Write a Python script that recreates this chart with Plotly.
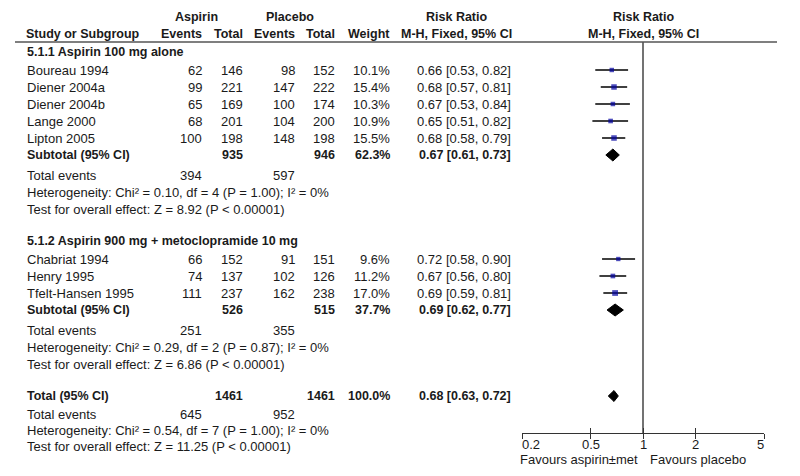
import math
import plotly.graph_objects as go

# ---------------- data ----------------
group_titles = ["5.1.1 Aspirin 100 mg alone", "5.1.2 Aspirin 900 mg + metoclopramide 10 mg"]

g1_studies = ["Boureau 1994", "Diener 2004a", "Diener 2004b", "Lange 2000", "Lipton 2005"]
g1_asp_events = [62, 99, 65, 68, 100]
g1_asp_total = [146, 221, 169, 201, 198]
g1_pla_events = [98, 147, 100, 104, 148]
g1_pla_total = [152, 222, 174, 200, 198]
g1_weight = [10.1, 15.4, 10.3, 10.9, 15.5]
g1_rr = [0.66, 0.68, 0.67, 0.65, 0.68]
g1_lo = [0.53, 0.57, 0.53, 0.51, 0.58]
g1_hi = [0.82, 0.81, 0.84, 0.82, 0.79]

g2_studies = ["Chabriat 1994", "Henry 1995", "Tfelt-Hansen 1995"]
g2_asp_events = [66, 74, 111]
g2_asp_total = [152, 137, 237]
g2_pla_events = [91, 102, 162]
g2_pla_total = [151, 126, 238]
g2_weight = [9.6, 11.2, 17.0]
g2_rr = [0.72, 0.67, 0.69]
g2_lo = [0.58, 0.56, 0.59]
g2_hi = [0.90, 0.80, 0.81]

sub_asp_total = [935, 526]
sub_pla_total = [946, 515]
sub_weight = [62.3, 37.7]
sub_rr = [0.67, 0.69]
sub_lo = [0.61, 0.62]
sub_hi = [0.73, 0.77]
sub_asp_events = [394, 251]
sub_pla_events = [597, 355]
sub_het = ["Heterogeneity: Chi² = 0.10, df = 4 (P = 1.00); I² = 0%",
           "Heterogeneity: Chi² = 0.29, df = 2 (P = 0.87); I² = 0%"]
sub_test = ["Test for overall effect: Z = 8.92 (P < 0.00001)",
            "Test for overall effect: Z = 6.86 (P < 0.00001)"]

total_asp_total = 1461
total_pla_total = 1461
total_weight = 100.0
total_rr = 0.68
total_lo = 0.63
total_hi = 0.72
total_asp_events = 645
total_pla_events = 952
total_het = "Heterogeneity: Chi² = 0.54, df = 7 (P = 1.00); I² = 0%"
total_test = "Test for overall effect: Z = 11.25 (P < 0.00001)"

axis_ticks = [0.2, 0.5, 1, 2, 5]
axis_tick_labels = ["0.2", "0.5", "1", "2", "5"]
favours_left = "Favours aspirin±met"
favours_right = "Favours placebo"

groups = [
    (g1_studies, g1_asp_events, g1_asp_total, g1_pla_events, g1_pla_total, g1_weight, g1_rr, g1_lo, g1_hi),
    (g2_studies, g2_asp_events, g2_asp_total, g2_pla_events, g2_pla_total, g2_weight, g2_rr, g2_lo, g2_hi),
]

# ---------------- style / layout constants ----------------
W, H = 800, 476
FONT = "Liberation Sans, Arial, sans-serif"
TXT = "#1a1a1a"
FS = 13
FSB = 12.5
X_STUDY = 27
X_AE, X_AT, X_PE, X_PT, X_W, X_RR = 202, 243, 295, 335, 390, 511
X_RR_HEAD = 456
X_PLOT_HEAD = 643
PLOT_L, PLOT_R = 522, 764
AXIS_Y = 433
HEAD_LINE_Y = 42
BLUE = "#0000a0"

ann = []


def txt(x, y, s, anchor="left", bold=False, xref="x2"):
    ann.append(dict(x=x, y=y, xref=xref, yref="y", text=(f"<b>{s}</b>" if bold else s),
                    showarrow=False, xanchor=anchor, yanchor="middle", borderpad=0, borderwidth=0,
                    font=dict(family=FONT, size=(FSB if bold else FS), color=TXT)))


def fmt_rr(r, l, h):
    return f"{r:.2f} [{l:.2f}, {h:.2f}]"


# headers
txt(196, 17, "Aspirin", "center", True)
txt(290, 17, "Placebo", "center", True)
txt(X_RR_HEAD, 17, "Risk Ratio", "center", True)
txt(X_PLOT_HEAD, 17, "Risk Ratio", "center", True)
txt(26, 34, "Study or Subgroup", "left", True)
txt(X_AE, 34, "Events", "right", True)
txt(X_AT, 34, "Total", "right", True)
txt(X_PE, 34, "Events", "right", True)
txt(X_PT, 34, "Total", "right", True)
txt(X_W, 34, "Weight", "right", True)
txt(X_RR_HEAD, 34, "M-H, Fixed, 95% CI", "center", True)
txt(X_PLOT_HEAD, 34, "M-H, Fixed, 95% CI", "center", True)

ci_x, ci_y = [], []
sq_x, sq_y, sq_s = [], [], []
diamonds = []

y = 52
for gi, g in enumerate(groups):
    studies, ae, at, pe, pt, wt, rr, lo, hi = g
    txt(X_STUDY, y, group_titles[gi], "left", True)
    y += 18
    for i in range(len(studies)):
        txt(X_STUDY, y, studies[i])
        txt(X_AE, y, str(ae[i]), "right")
        txt(X_AT, y, str(at[i]), "right")
        txt(X_PE, y, str(pe[i]), "right")
        txt(X_PT, y, str(pt[i]), "right")
        txt(X_W, y, f"{wt[i]:.1f}%", "right")
        txt(X_RR, y, fmt_rr(rr[i], lo[i], hi[i]), "right")
        ci_x += [lo[i], hi[i], None]
        ci_y += [y, y, None]
        sq_x.append(rr[i]); sq_y.append(y); sq_s.append(1.4 * math.sqrt(wt[i]))
        y += 17
    txt(X_STUDY, y, "Subtotal (95% CI)", "left", True)
    txt(X_AT, y, str(sub_asp_total[gi]), "right", True)
    txt(X_PT, y, str(sub_pla_total[gi]), "right", True)
    txt(X_W, y, f"{sub_weight[gi]:.1f}%", "right", True)
    txt(X_RR, y, fmt_rr(sub_rr[gi], sub_lo[gi], sub_hi[gi]), "right", True)
    diamonds.append((sub_rr[gi], sub_lo[gi], sub_hi[gi], y, 6))
    y += 20
    txt(X_STUDY, y, "Total events")
    txt(X_AE, y, str(sub_asp_events[gi]), "right")
    txt(X_PE, y, str(sub_pla_events[gi]), "right")
    y += 17
    txt(X_STUDY, y, sub_het[gi])
    y += 17
    txt(X_STUDY, y, sub_test[gi])
    y += 32

txt(X_STUDY, y, "Total (95% CI)", "left", True)
txt(X_AT, y, str(total_asp_total), "right", True)
txt(X_PT, y, str(total_pla_total), "right", True)
txt(X_W, y, f"{total_weight:.1f}%", "right", True)
txt(X_RR, y, fmt_rr(total_rr, total_lo, total_hi), "right", True)
diamonds.append((total_rr, total_lo, total_hi, y, 5.5))
y += 18
txt(X_STUDY, y, "Total events")
txt(X_AE, y, str(total_asp_events), "right")
txt(X_PE, y, str(total_pla_events), "right")
y += 16
txt(X_STUDY, y, total_het)
y += 16
txt(X_STUDY, y, total_test)

# axis tick labels (placed on the log axis scale)
for k, (tv, tl) in enumerate(zip(axis_ticks, axis_tick_labels)):
    anchor = "left" if k == 0 else ("right" if k == len(axis_ticks) - 1 else "center")
    txt(math.log10(tv), 444, tl, anchor, False, xref="x")

txt(638, 459, favours_left, "right")
txt(650, 459, favours_right, "left")

fig = go.Figure()

# null line at RR = 1
fig.add_trace(go.Scatter(x=[1, 1], y=[HEAD_LINE_Y, AXIS_Y], mode="lines",
                         line=dict(color="#444", width=1.5), hoverinfo="skip"))
# confidence intervals
fig.add_trace(go.Scatter(x=ci_x, y=ci_y, mode="lines", line=dict(color="#000", width=1.5),
                         hoverinfo="skip"))
# study squares
fig.add_trace(go.Scatter(x=sq_x, y=sq_y, mode="markers",
                         marker=dict(symbol="square", size=sq_s, color=BLUE, line=dict(width=0))))
# diamonds
for est, lo_, hi_, yy, hh in diamonds:
    fig.add_trace(go.Scatter(x=[lo_, est, hi_, est, lo_], y=[yy, yy - hh, yy, yy + hh, yy],
                             mode="lines", fill="toself", fillcolor="#000",
                             line=dict(color="#000", width=1), hoverinfo="skip"))
# helper trace for overlay axis
fig.add_trace(go.Scatter(x=[1], y=[AXIS_Y], xaxis="x3", yaxis="y", mode="markers",
                         marker=dict(size=1, opacity=0), hoverinfo="skip"))
# helper trace for text axis
fig.add_trace(go.Scatter(x=[0], y=[0], xaxis="x2", yaxis="y", mode="markers",
                         marker=dict(size=1, opacity=0), hoverinfo="skip"))

rng = [math.log10(axis_ticks[0]), math.log10(axis_ticks[-1])]
pos = (H - AXIS_Y) / H
fig.update_layout(
    width=W, height=H, margin=dict(l=0, r=0, t=0, b=0),
    paper_bgcolor="white", plot_bgcolor="rgba(0,0,0,0)", showlegend=False,
    shapes=[dict(type="line", xref="x2", yref="y", x0=15, x1=777, y0=HEAD_LINE_Y, y1=HEAD_LINE_Y,
                 line=dict(color="#555", width=1.5))],
    annotations=ann,
    xaxis=dict(type="log", range=rng, domain=[PLOT_L / W, PLOT_R / W], anchor="free", position=pos,
               tickvals=axis_ticks, ticks="outside", ticklen=5, showticklabels=False,
               tickwidth=1.2, tickcolor="#333", showline=True, linecolor="#333", linewidth=1.2,
               showgrid=False, zeroline=False),
    xaxis3=dict(type="log", range=rng, overlaying="x", anchor="free", position=pos,
                tickvals=axis_ticks, ticks="inside", ticklen=5, tickwidth=1.2, tickcolor="#333",
                showticklabels=False, showline=False, showgrid=False, zeroline=False),
    xaxis2=dict(range=[0, W], domain=[0, 1], anchor="y", visible=False),
    yaxis=dict(range=[H, 0], domain=[0, 1], anchor="x2", visible=False),
)

fig.write_html("out.html", config={"displayModeBar": False},
               post_script="document.body.style.margin='0';document.body.style.overflow='hidden';")
